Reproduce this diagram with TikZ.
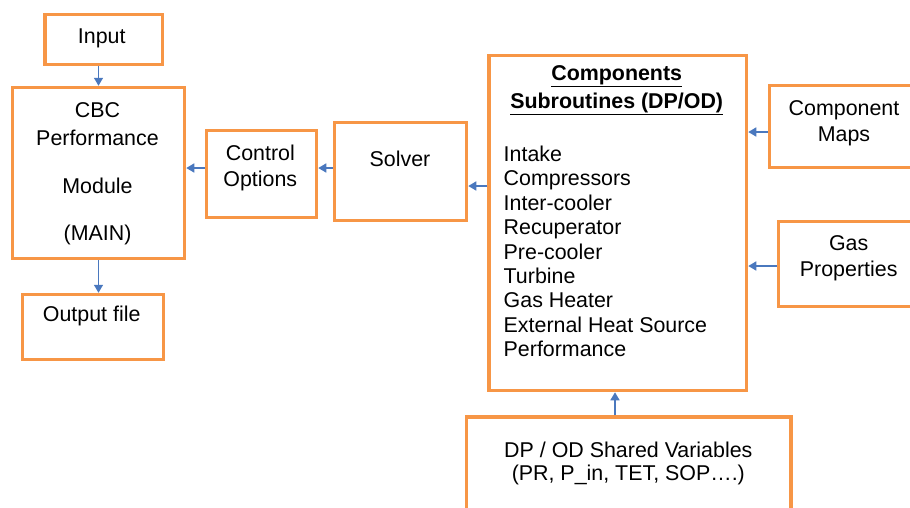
\documentclass[tikz,border=0pt]{standalone}
\usepackage{fontspec}
\setmainfont{Liberation Sans}
\usetikzlibrary{arrows.meta, positioning}

\definecolor{BoxOrange}{RGB}{247, 150, 70}
\definecolor{LinkBlue}{RGB}{74, 120, 190}

\begin{document}
\begin{tikzpicture}[
    x=1pt, y=-1pt,
    every node/.style={font=\fontsize{21.4}{26.7}\selectfont, inner sep=0pt},
    box/.style={draw=BoxOrange, line width=3.5pt, rectangle},
    txt/.style={anchor=base, align=center},
    link/.style={draw=LinkBlue, line width=1.6pt, -{Triangle[length=8pt, width=9pt]}}
]
\useasboundingbox (0,0) rectangle (910,507);
\clip (0,0) rectangle (910,507);
% Main module column (text nodes sit on their last baseline)
\node[box, minimum width=117.5pt, minimum height=50pt] (input) at (103.75,39.5) {};
\node[txt] (input-t) at (101.7,43) {Input};
\node[box, minimum width=172pt, minimum height=171pt] (cbc) at (98.5,173) {};
\node[txt] (cbc-t) at (97.5,240) {CBC\\[1.3pt]Performance\\[21pt]Module\\[20pt](MAIN)};
\node[box, minimum width=141pt, minimum height=65pt] (output) at (93,327) {};
\node[txt] (output-t) at (91.7,321.7) {Output file};
% Control and solver
\node[box, minimum width=110pt, minimum height=87pt] (ctrl) at (261.5,174) {};
\node[txt] (ctrl-t) at (260.3,186.7) {Control\\Options};
\node[box, minimum width=132pt, minimum height=98pt] (solver) at (400.5,171.5) {};
\node[txt] (solver-t) at (400,166) {Solver};
% Component subroutines
\node[box, minimum width=257.5pt, minimum height=335pt] (comp) at (617.75,223) {};
\node[txt, font=\fontsize{21.4}{28}\bfseries] (comp-title) at (616.7,108)
    {\underline{Components}\\\underline{Subroutines (DP/OD)}};
\node[anchor=base west, align=left, font=\fontsize{21.4}{24.4}\selectfont] (comp-list) at (503.5,356.7)
    {Intake\\Compressors\\Inter-cooler\\Recuperator\\Pre-cooler\\Turbine\\Gas Heater\\External Heat Source\\Performance};
% Data feeding the components
\node[box, minimum width=180.5pt, minimum height=82pt] (maps) at (859.75,126.5) {};
\node[txt] (maps-t) at (844,141.7) {Component\\Maps};
\node[box, minimum width=171.5pt, minimum height=85pt] (gas) at (864.25,264) {};
\node[txt] (gas-t) at (848.7,276.7) {Gas\\Properties};
\node[box, minimum width=324.5pt, minimum height=143pt] (dpod) at (628.75,488.5) {};
\node[txt] (dpod-t) at (628.3,480) {DP / OD Shared Variables\\[-3.7pt](PR, P\_in, TET, SOP….)};
% Links
\draw[link] (input.south -| cbc.north) -- (cbc.north);
\draw[link] (cbc.south) -- (cbc.south |- output.north);
\draw[link] ([yshift=6pt]ctrl.west) -- ([yshift=6pt]ctrl.west -| cbc.east);
\draw[link] ([yshift=3.5pt]solver.west) -- ([yshift=3.5pt]solver.west -| ctrl.east);
\draw[link] ([yshift=-14.5pt]solver.east -| comp.west) -- ([yshift=-14.5pt]solver.east);
\draw[link] ([yshift=-5.5pt]maps.west) -- ([yshift=-5.5pt]maps.west -| comp.east);
\draw[link] ([yshift=-2pt]gas.west) -- ([yshift=-2pt]gas.west -| comp.east);
\draw[link] ([xshift=-2.75pt]comp.south |- dpod.north) -- ([xshift=-2.75pt]comp.south);
\end{tikzpicture}
\end{document}
